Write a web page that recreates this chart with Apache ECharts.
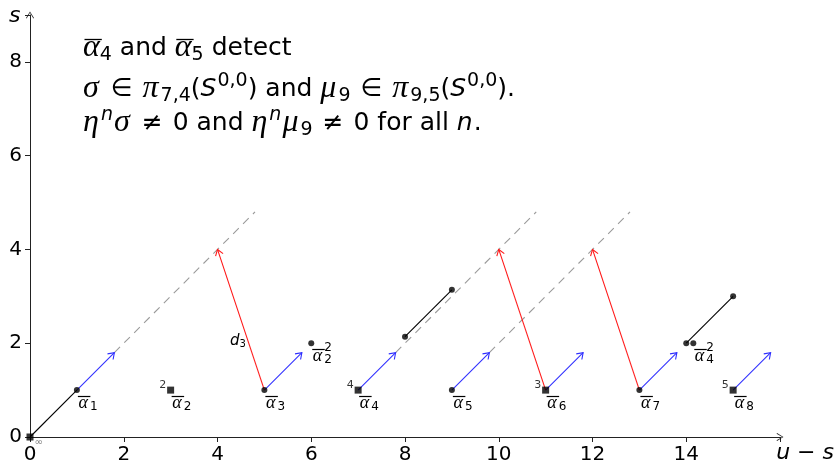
<!DOCTYPE html>
<html>
<head>
<meta charset="utf-8">
<script src="https://cdn.jsdelivr.net/npm/echarts@6/dist/echarts.min.js"></script>
<style>
  html, body { margin: 0; padding: 0; background: #fff; }
  #chart { width: 837px; height: 465px; }
</style>
</head>
<body>
<div id="chart"></div>
<script>
// Axis extents and ticks
const xMax = 16;
const yMax = 9;
const xTicks = [0, 2, 4, 6, 8, 10, 12, 14];
const yTicks = [0, 2, 4, 6, 8];

// Classes: round dots and square classes
const dots = [[1, 1], [5, 1], [9, 1], [13, 1], [6, 2], [8, 2.14], [9, 3.14], [14, 2], [14.15, 2], [15, 3]];
const squares = [[0, 0], [3, 1], [7, 1], [11, 1], [15, 1]];
const squareMarks = ['∞', '2', '4', '3', '5'];

// Solid h-multiplications
const solidLines = [[0, 0, 1, 1], [8, 2.14, 9, 3.14], [14, 2, 15, 3]];
// Dashed continuation of h-towers
const dashedLines = [[1.8, 1.8, 4.8, 4.8], [7.8, 1.8, 10.8, 4.8], [9.8, 1.8, 12.8, 4.8]];
// Blue arrows: infinite h-towers
const towers = [[1, 1, 1.8, 1.8], [5, 1, 5.8, 1.8], [7, 1, 7.8, 1.8], [9, 1, 9.8, 1.8],
                [11, 1, 11.8, 1.8], [13, 1, 13.8, 1.8], [15, 1, 15.8, 1.8]];
// Red arrows: differentials
const differentials = [[5, 1, 4, 4], [11, 1, 10, 4], [13, 1, 12, 4]];
const diffLabels = ['d3', '', ''];

// Class names: [x, y, subscript, superscript]
const alphaLabels = [[1, 1, '1', ''], [3, 1, '2', ''], [5, 1, '3', ''], [7, 1, '4', ''],
                     [9, 1, '5', ''], [11, 1, '6', ''], [13, 1, '7', ''], [15, 1, '8', ''],
                     [6, 2, '2', '2'], [14.15, 2, '4', '2']];

// Note lines (rich text); the two alphas of the first line get overlines
const noteSubs = ['4', '5'];
const noteLines = [
  '{ab|α}{sb|4} and {ab|α}{sb|5} detect',
  '{gi|σ}{rel|∈}{gi|π}{sb|7,4}({it|S}{sp|0,0}) and {gi|μ}{sb|9}{rel|∈}{gi|π}{sb|9,5}({it|S}{sp|0,0}).',
  '{gi|η}{spi|n}{gi|σ}{rel|≠}0 and {gi|η}{spi|n}{gi|μ}{sb|9}{rel|≠}0 for all {it|n}.'
];

const SANS = '"DejaVu Sans", sans-serif';
const SERIF = '"Liberation Serif", "DejaVu Serif", serif';

const noteLeft = 83;
const noteTops = [31, 72, 106];
const GREEK_SIZE = 32, MAIN_SIZE = 25, SCRIPT_SIZE = 19, LINE_H = 34;

const noteRich = {
  ab: { fontFamily: SERIF, fontStyle: 'italic', fontSize: GREEK_SIZE, lineHeight: LINE_H, verticalAlign: 'middle' },
  gi: { fontFamily: SERIF, fontStyle: 'italic', fontSize: GREEK_SIZE, lineHeight: LINE_H, verticalAlign: 'middle', padding: [0, 2, 0, 0] },
  it: { fontFamily: SANS, fontStyle: 'italic', fontSize: MAIN_SIZE, lineHeight: LINE_H, verticalAlign: 'middle', padding: [0, 1, 0, 0] },
  rel: { fontFamily: SANS, fontSize: MAIN_SIZE, lineHeight: LINE_H, verticalAlign: 'middle', padding: [0, 10, 0, 10] },
  sb: { fontFamily: SANS, fontSize: SCRIPT_SIZE, lineHeight: 24, verticalAlign: 'bottom' },
  sp: { fontFamily: SANS, fontSize: SCRIPT_SIZE, lineHeight: 19, verticalAlign: 'top' },
  spi: { fontFamily: SANS, fontStyle: 'italic', fontSize: SCRIPT_SIZE, lineHeight: 19, verticalAlign: 'top', padding: [0, 1, 0, 0] }
};

// text measuring for the overlines of the first note line
const measureCtx = document.createElement('canvas').getContext('2d');
function textWidth(font, s) { measureCtx.font = font; return measureCtx.measureText(s).width; }
const alphaFont = 'italic normal ' + GREEK_SIZE + 'px ' + SERIF;
const wAlpha = textWidth(alphaFont, 'α');
const wSub = textWidth('normal normal ' + SCRIPT_SIZE + 'px ' + SANS, noteSubs[0]);
const wAnd = textWidth('normal normal ' + MAIN_SIZE + 'px ' + SANS, ' and ');
const overlineStarts = [noteLeft, noteLeft + wAlpha + wSub + wAnd];
const overlineY = noteTops[0] + 8.5;

function segmentRenderer(color, width, dash, head, labels) {
  return function (params, api) {
    const a = api.coord([api.value(0), api.value(1)]);
    const b = api.coord([api.value(2), api.value(3)]);
    const children = [{
      type: 'line',
      shape: { x1: a[0], y1: a[1], x2: b[0], y2: b[1] },
      style: { stroke: color, lineWidth: width, lineDash: dash || null }
    }];
    if (head) {
      const ang = Math.atan2(b[1] - a[1], b[0] - a[0]);
      const L = 7, spread = 0.6;
      children.push({
        type: 'polyline',
        shape: { points: [
          [b[0] - L * Math.cos(ang - spread), b[1] - L * Math.sin(ang - spread)],
          [b[0], b[1]],
          [b[0] - L * Math.cos(ang + spread), b[1] - L * Math.sin(ang + spread)]
        ] },
        style: { stroke: color, fill: null, lineWidth: width }
      });
    }
    const lab = labels && labels[params.dataIndex];
    if (lab) {
      const t = 0.35;
      children.push({
        type: 'text',
        style: {
          text: '{d|' + lab[0] + '}{s|' + lab.slice(1) + '}',
          x: a[0] + t * (b[0] - a[0]) - 2,
          y: a[1] + t * (b[1] - a[1]),
          align: 'right', verticalAlign: 'middle',
          rich: {
            d: { fontFamily: SANS, fontStyle: 'italic', fontSize: 15, lineHeight: 18, verticalAlign: 'middle', fill: '#000' },
            s: { fontFamily: SANS, fontSize: 10, lineHeight: 10, verticalAlign: 'bottom', fill: '#000' }
          }
        }
      });
    }
    return { type: 'group', children: children };
  };
}

function segSeries(name, data, renderer, z) {
  return {
    type: 'custom', name: name, data: data, z: z,
    encode: { x: [0, 2], y: [1, 3] },
    renderItem: renderer, silent: true, clip: false
  };
}

const arrowPath = 'path://M0,0 L5,8 L4.2,8.6 L0,1.6 L-4.2,8.6 L-5,8 Z';

function valueAxis(max, ticks) {
  return {
    type: 'value', min: 0, max: max, interval: 2,
    axisLine: {
      show: true, onZero: true,
      lineStyle: { color: '#222', width: 1 },
      symbol: ['none', arrowPath],
      symbolSize: [8, 8]
    },
    axisTick: { show: true, length: 5, lineStyle: { color: '#222' } },
    axisLabel: {
      fontFamily: SANS, fontSize: 20, color: '#000', margin: 8,
      formatter: v => (ticks.indexOf(v) >= 0 ? String(v) : '')
    },
    splitLine: { show: false }
  };
}

const option = {
  animation: false,
  grid: { left: 30, right: 57, top: 15, bottom: 28, containLabel: false, outerBoundsMode: 'none' },
  xAxis: valueAxis(xMax, xTicks),
  yAxis: valueAxis(yMax, yTicks),
  graphic: [
    { type: 'text', left: 9, top: 5, style: { text: 's', font: 'italic 22px ' + SANS, fill: '#000' } },
    { type: 'text', right: 3, bottom: 1, style: { text: 'u − s', font: 'italic 22px ' + SANS, fill: '#000' } }
  ].concat(noteLines.map((txt, i) => ({
    type: 'text', left: noteLeft, top: noteTops[i],
    style: { text: txt, rich: noteRich, fontFamily: SANS, fontSize: MAIN_SIZE, lineHeight: LINE_H, fill: '#000' }
  }))).concat(overlineStarts.map(x0 => ({
    type: 'line',
    shape: { x1: x0 + 1.5, y1: overlineY, x2: x0 + wAlpha + 2, y2: overlineY },
    style: { stroke: '#000', lineWidth: 1.3 }
  }))),
  series: [
    segSeries('dashed', dashedLines, segmentRenderer('#9a9a9a', 1.1, [8, 6], false), 1),
    segSeries('solid', solidLines, segmentRenderer('#000', 1.1, null, false), 2),
    segSeries('towers', towers, segmentRenderer('#2e2eff', 1.1, null, true), 3),
    segSeries('differentials', differentials, segmentRenderer('#ff1a1a', 1.1, null, true, diffLabels), 3),
    {
      type: 'scatter', name: 'dots', data: dots, symbol: 'circle', symbolSize: 6,
      itemStyle: { color: '#000' }, z: 5, silent: true
    },
    {
      type: 'scatter', name: 'squares', symbol: 'rect', symbolSize: 7,
      itemStyle: { color: '#000' }, z: 5, silent: true,
      data: squares.map((v, i) => i === 0
        ? { value: v, label: { position: 'right', distance: 1, offset: [0, 5], fontSize: 10, color: '#555' } }
        : { value: v }),
      label: {
        show: true,
        formatter: p => squareMarks[p.dataIndex],
        position: 'left', distance: 1, offset: [0, -5],
        fontFamily: SANS, fontSize: 11, color: '#000'
      }
    },
    {
      type: 'custom', name: 'classNames', data: alphaLabels.map(r => [r[0], r[1]]), z: 6,
      encode: { x: 0, y: 1 }, silent: true, clip: false,
      renderItem: function (params, api) {
        const p = api.coord([api.value(0), api.value(1)]);
        const row = alphaLabels[params.dataIndex];
        const barY = Math.round(p[1] + 6) + 0.5;
        const children = [
          { type: 'line', shape: { x1: p[0] + 1, y1: barY, x2: p[0] + 13.5, y2: barY },
            style: { stroke: '#000', lineWidth: 1.2 } },
          { type: 'text', style: { text: 'α', x: p[0] + 1.5, y: p[1] + 13, align: 'left', verticalAlign: 'middle',
            font: 'italic 18px ' + SERIF, fill: '#000' } },
          { type: 'text', style: { text: row[2], x: p[0] + 13, y: p[1] + 17, align: 'left', verticalAlign: 'middle',
            font: '12px ' + SANS, fill: '#000' } }
        ];
        if (row[3]) {
          children.push({ type: 'text', style: { text: row[3], x: p[0] + 13, y: p[1] + 5, align: 'left', verticalAlign: 'middle',
            font: '12px ' + SANS, fill: '#000' } });
        }
        return { type: 'group', children: children };
      }
    }
  ]
};

const chart = echarts.init(document.getElementById('chart'), null, { renderer: 'canvas' });
chart.setOption(option);
</script>
</body>
</html>
